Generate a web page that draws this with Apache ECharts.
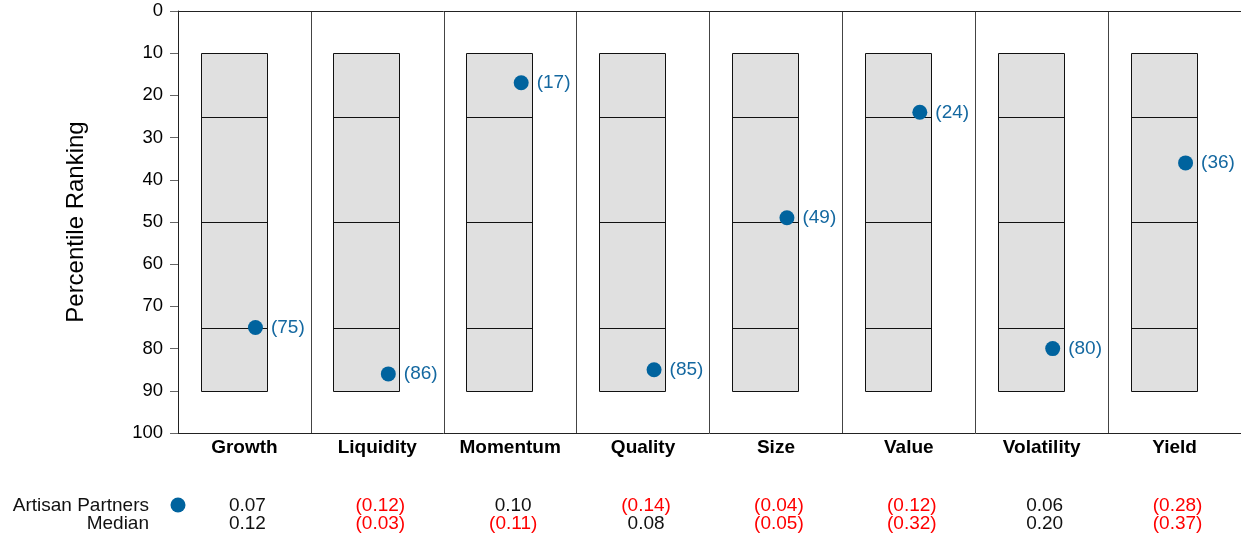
<!DOCTYPE html>
<html>
<head>
<meta charset="utf-8">
<script src="https://cdn.jsdelivr.net/npm/echarts@6/dist/echarts.min.js"></script>
<style>
  html, body { margin: 0; padding: 0; background: #fff; }
  #chart { width: 1241px; height: 535px; }
</style>
</head>
<body>
<div id="chart"></div>
<script>
// Style factor categories
const factors = ['Growth', 'Liquidity', 'Momentum', 'Quality', 'Size', 'Value', 'Volatility', 'Yield'];
// Percentile band edges drawn for every factor: box top, quartile lines, box bottom
const bandEdges = [10, 25, 50, 75, 90];
// Portfolio percentile ranking per factor
const portfolioRank = [75, 86, 17, 85, 49, 24, 80, 36];
// Factor exposures shown in the table under the chart
const artisanExposure = [0.07, -0.12, 0.10, -0.14, -0.04, -0.12, 0.06, -0.28];
const medianExposure = [0.12, -0.03, -0.11, 0.08, -0.05, -0.32, 0.20, -0.37];
// Y axis tick range
const rankTicks = { min: 0, max: 100, step: 10 };

const FONT = "'Liberation Sans', Arial, Helvetica, sans-serif";
const BLUE = '#00639e';
const RED = '#ff0000';

function fmtExposure(v) {
  return v < 0 ? '{neg|(' + Math.abs(v).toFixed(2) + ')}' : '{pos|' + v.toFixed(2) + '}';
}

const tableRich = {
  neg: { color: RED, fontSize: 19, fontFamily: FONT },
  pos: { color: '#111', fontSize: 19, fontFamily: FONT }
};

const chart = echarts.init(document.getElementById('chart'), null, { renderer: 'canvas' });

chart.setOption({
  animation: false,
  backgroundColor: '#fff',
  grid: { left: 178, top: 11, width: 1066, height: 422, containLabel: false },
  xAxis: [
    {
      type: 'category',
      data: factors,
      position: 'bottom',
      axisLine: { show: true, onZero: false, lineStyle: { color: '#222', width: 1 } },
      axisTick: { show: false },
      axisLabel: { fontFamily: FONT, fontSize: 19, fontWeight: 'bold', color: '#000', margin: 5 },
      splitLine: { show: true, lineStyle: { color: '#444', width: 1 } }
    },
    {
      type: 'category',
      data: factors,
      position: 'top',
      axisLine: { show: true, onZero: false, lineStyle: { color: '#222', width: 1 } },
      axisTick: { show: false },
      axisLabel: { show: false },
      splitLine: { show: false }
    },
    {
      type: 'category',
      data: factors,
      position: 'bottom',
      offset: 63,
      axisLine: { show: false, onZero: false },
      axisTick: { show: false },
      axisLabel: {
        margin: 0,
        padding: [0, 0, 0, 6],
        formatter: (v, i) => fmtExposure(artisanExposure[i]),
        rich: tableRich
      },
      splitLine: { show: false }
    },
    {
      type: 'category',
      data: factors,
      position: 'bottom',
      offset: 81,
      axisLine: { show: false, onZero: false },
      axisTick: { show: false },
      axisLabel: {
        margin: 0,
        padding: [0, 0, 0, 6],
        formatter: (v, i) => fmtExposure(medianExposure[i]),
        rich: tableRich
      },
      splitLine: { show: false }
    }
  ],
  yAxis: {
    type: 'value',
    inverse: true,
    min: rankTicks.min,
    max: rankTicks.max,
    interval: rankTicks.step,
    name: 'Percentile Ranking',
    nameLocation: 'middle',
    nameRotate: 90,
    nameGap: 90,
    nameTextStyle: { fontFamily: FONT, fontSize: 24, color: '#000' },
    axisLine: { show: true, lineStyle: { color: '#222', width: 1 } },
    axisTick: { show: true, inside: false, length: 8, lineStyle: { color: '#666', width: 1 } },
    axisLabel: { fontFamily: FONT, fontSize: 18.5, color: '#000', margin: 15, padding: [4, 0, 0, 0] },
    splitLine: { show: false }
  },
  series: [
    {
      type: 'custom',
      name: 'Percentile bands',
      xAxisIndex: 0,
      z: 1,
      data: factors.map((f, i) => [i].concat(bandEdges)),
      encode: { x: 0, y: [1, 5] },
      renderItem: function (params, api) {
        const idx = api.value(0);
        const bw = api.size([1, 0])[0];
        const cx = api.coord([idx, 0])[0];
        const left = cx - 0.33 * bw;
        const width = 0.5 * bw;
        const yTop = api.coord([idx, api.value(1)])[1];
        const yBot = api.coord([idx, api.value(5)])[1];
        const children = [{
          type: 'rect',
          shape: { x: Math.round(left) + 0.5, y: Math.round(yTop) + 0.5, width: Math.round(width), height: Math.round(yBot - yTop) },
          style: { fill: '#e0e0e0', stroke: '#111', lineWidth: 1 }
        }];
        for (let k = 2; k <= 4; k++) {
          const y = Math.round(api.coord([idx, api.value(k)])[1]) + 0.5;
          children.push({
            type: 'line',
            shape: { x1: Math.round(left) + 0.5, y1: y, x2: Math.round(left) + 0.5 + Math.round(width), y2: y },
            style: { stroke: '#111', lineWidth: 1 }
          });
        }
        return { type: 'group', children: children };
      }
    },
    {
      type: 'scatter',
      name: 'Artisan Partners',
      xAxisIndex: 0,
      z: 3,
      symbol: 'circle',
      symbolSize: 15,
      symbolOffset: [11, 0],
      itemStyle: { color: BLUE, opacity: 1 },
      data: portfolioRank.map((v, i) => [i, v]),
      label: {
        show: true,
        position: 'right',
        distance: 8,
        formatter: p => '(' + p.value[1] + ')',
        fontFamily: FONT,
        fontSize: 19,
        color: '#1468a0'
      }
    }
  ],
  graphic: [
    {
      type: 'text',
      x: 149, y: 506,
      style: { text: 'Artisan Partners', fontFamily: FONT, fontSize: 19, fill: '#111', align: 'right', verticalAlign: 'middle' }
    },
    {
      type: 'text',
      x: 149, y: 524,
      style: { text: 'Median', fontFamily: FONT, fontSize: 19, fill: '#111', align: 'right', verticalAlign: 'middle' }
    },
    {
      type: 'circle',
      shape: { cx: 178, cy: 505, r: 7.5 },
      style: { fill: BLUE }
    }
  ]
});
</script>
</body>
</html>
